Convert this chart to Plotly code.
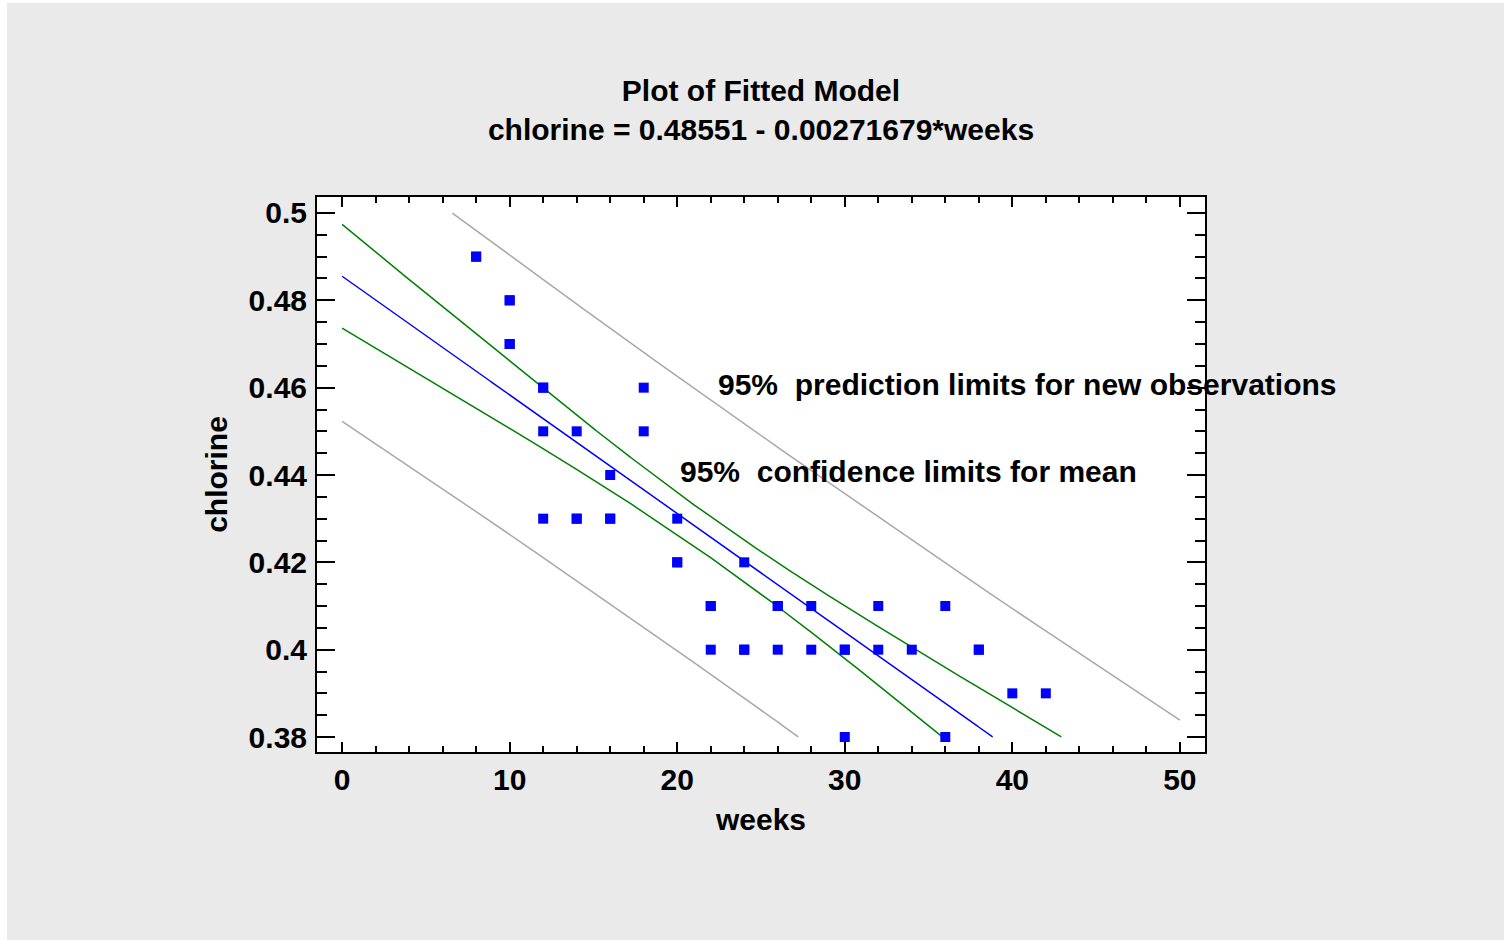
import numpy as np
import plotly.graph_objects as go

# Observed data (Draper & Smith chlorine data)
weeks = [8, 8, 10, 10, 10, 10, 12, 12, 12, 12, 14, 14, 14, 16, 16, 16, 18, 18,
         20, 20, 20, 22, 22, 22, 24, 24, 24, 26, 26, 26, 28, 28, 30, 30, 30,
         32, 32, 34, 36, 36, 38, 38, 40, 42]
chlorine = [0.49, 0.49, 0.48, 0.47, 0.48, 0.47, 0.46, 0.46, 0.45, 0.43,
            0.45, 0.43, 0.43, 0.44, 0.43, 0.43, 0.46, 0.45,
            0.42, 0.42, 0.43, 0.41, 0.41, 0.40, 0.42, 0.40, 0.40,
            0.41, 0.40, 0.41, 0.41, 0.40, 0.40, 0.40, 0.38,
            0.41, 0.40, 0.40, 0.41, 0.38, 0.40, 0.40, 0.39, 0.39]

x_tickvals = [0, 10, 20, 30, 40, 50]
x_ticktext = ["0", "10", "20", "30", "40", "50"]
y_tickvals = [0.38, 0.40, 0.42, 0.44, 0.46, 0.48, 0.50]
y_ticktext = ["0.38", "0.4", "0.42", "0.44", "0.46", "0.48", "0.5"]

T_CRIT = 2.018  # t(0.975, 42 df)
Y_LO, Y_HI = 0.38, 0.50
X_LO, X_HI = 0.0, 50.0

# ---- least squares fit and limits
x = np.array(weeks, float)
y = np.array(chlorine, float)
n = len(x)
b1, b0 = np.polyfit(x, y, 1)
xbar = x.mean()
sxx = ((x - xbar) ** 2).sum()
resid = y - (b0 + b1 * x)
s = np.sqrt((resid ** 2).sum() / (n - 2))

xs = np.linspace(X_LO, X_HI, 2001)
fit = b0 + b1 * xs
hw_mean = T_CRIT * s * np.sqrt(1.0 / n + (xs - xbar) ** 2 / sxx)
hw_pred = T_CRIT * s * np.sqrt(1.0 + 1.0 / n + (xs - xbar) ** 2 / sxx)


def clip(vals):
    out = vals.astype(object)
    out[(vals < Y_LO) | (vals > Y_HI)] = None
    return list(out)


FONT = "Liberation Sans, Arial, sans-serif"
FS = 30
W, H = 1504, 940
ML, MR, MT, MB = 317, 299, 197, 188
pw, ph = W - ML - MR, H - MT - MB

fig = go.Figure()
fig.add_trace(go.Scatter(x=xs, y=clip(fit + hw_pred), mode="lines",
                         line=dict(color="#A8A8A8", width=1.5), hoverinfo="skip"))
fig.add_trace(go.Scatter(x=xs, y=clip(fit - hw_pred), mode="lines",
                         line=dict(color="#A8A8A8", width=1.5), hoverinfo="skip"))
fig.add_trace(go.Scatter(x=xs, y=clip(fit + hw_mean), mode="lines",
                         line=dict(color="#008000", width=1.5), hoverinfo="skip"))
fig.add_trace(go.Scatter(x=xs, y=clip(fit - hw_mean), mode="lines",
                         line=dict(color="#008000", width=1.5), hoverinfo="skip"))
fig.add_trace(go.Scatter(x=xs, y=clip(fit), mode="lines",
                         line=dict(color="#0000FF", width=1.5), hoverinfo="skip"))
fig.add_trace(go.Scatter(x=weeks, y=chlorine, mode="markers",
                         marker=dict(symbol="square", size=10, color="#0000FF",
                                     line=dict(width=0))))

bold = dict(family=FONT, size=FS, color="black", weight="bold")

axis_common = dict(
    showgrid=False, zeroline=False, showline=True, linecolor="black",
    linewidth=2, mirror="ticks", ticks="inside", tickcolor="black",
    tickwidth=2, tickfont=bold,
)

fig.update_layout(
    width=W, height=H,
    margin=dict(l=ML, r=MR, t=MT, b=MB),
    paper_bgcolor="#EAEAEA", plot_bgcolor="white",
    showlegend=False,
    title=dict(
        text="Plot of Fitted Model<br>chlorine = 0.48551 - 0.00271679*weeks",
        x=(ML + pw / 2) / W, xanchor="center", y=1 - 101 / H, yanchor="top",
        font=bold,
    ),
    xaxis=dict(
        range=[-1.5, 51.5], tickvals=x_tickvals, ticktext=x_ticktext,
        ticklen=10,
        minor=dict(dtick=2, tick0=0, ticks="inside", ticklen=6, tickwidth=2,
                   tickcolor="black"),
        title=dict(text="weeks", standoff=14, font=bold),
        **axis_common,
    ),
    yaxis=dict(
        range=[0.37657, 0.50366], tickvals=y_tickvals, ticktext=y_ticktext,
        ticklen=18, ticklabelstandoff=2,
        minor=dict(dtick=0.005, tick0=0.38, ticks="inside", ticklen=10,
                   tickwidth=2, tickcolor="black"),
        title=dict(text="chlorine", standoff=12, font=bold),
        **axis_common,
    ),
    annotations=[
        dict(x=22.31, y=0.4608, xref="x", yref="y", xanchor="left",
             yanchor="middle", showarrow=False,
             text="95%&nbsp; prediction limits for new observations",
             font=bold),
        dict(x=20.05, y=0.4407, xref="x", yref="y", xanchor="left",
             yanchor="middle", showarrow=False,
             text="95%&nbsp; confidence limits for mean",
             font=bold),
    ],
    shapes=[
        dict(type="rect", xref="paper", yref="paper", layer="above",
             x0=-ML / pw, x1=(7 - ML) / pw, y0=-MB / ph, y1=1 + MT / ph,
             fillcolor="white", line=dict(width=0)),
        dict(type="rect", xref="paper", yref="paper", layer="above",
             x0=-ML / pw, x1=1 + MR / pw, y0=1 + (MT - 3) / ph, y1=1 + MT / ph,
             fillcolor="white", line=dict(width=0)),
    ],
)

fig.write_html("out.html")
